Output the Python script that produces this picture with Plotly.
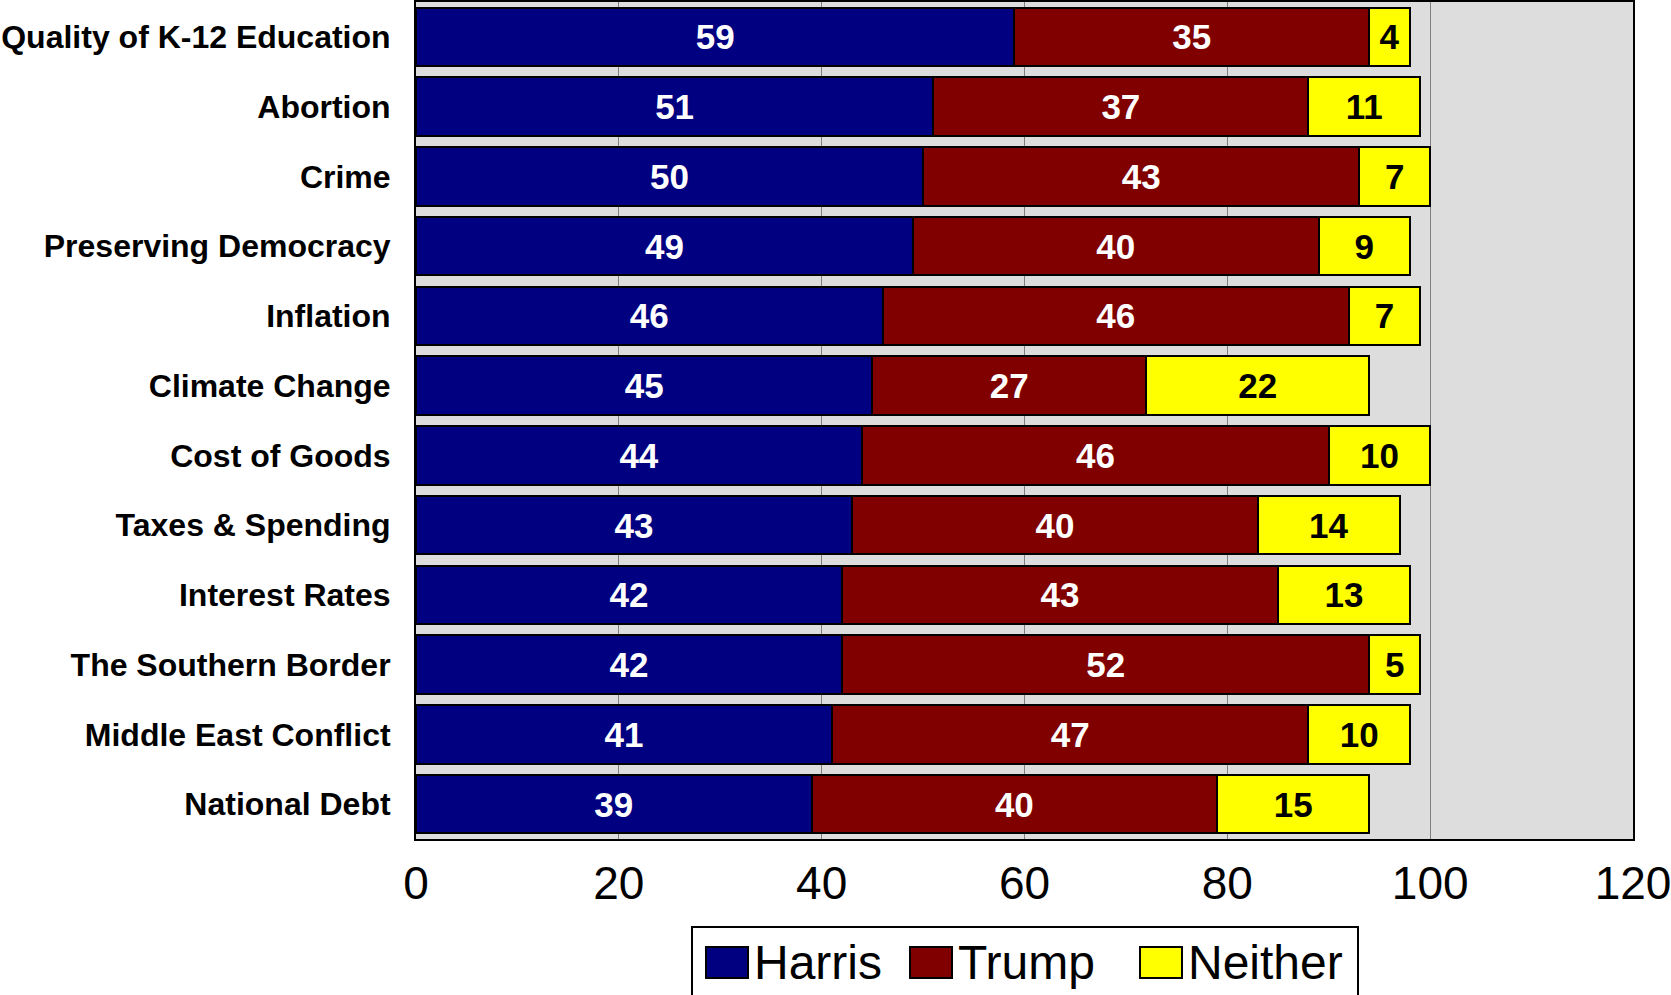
import plotly.graph_objects as go

categories = ["Quality of K-12 Education", "Abortion", "Crime", "Preserving Democracy",
              "Inflation", "Climate Change", "Cost of Goods", "Taxes & Spending",
              "Interest Rates", "The Southern Border", "Middle East Conflict", "National Debt"]
harris = [59, 51, 50, 49, 46, 45, 44, 43, 42, 42, 41, 39]
trump = [35, 37, 43, 40, 46, 27, 46, 40, 43, 52, 47, 40]
neither = [4, 11, 7, 9, 7, 22, 10, 14, 13, 5, 10, 15]
x_ticks = [0, 20, 40, 60, 80, 100, 120]

series = [("Harris", harris, "#000080", "white"),
          ("Trump", trump, "#800000", "white"),
          ("Neither", neither, "#FFFF00", "black")]

FONT = "Liberation Sans, Arial, sans-serif"

fig = go.Figure()
for name, vals, color, tcolor in series:
    fig.add_trace(go.Bar(
        y=categories, x=vals, name=name, orientation="h",
        marker=dict(color=color, line=dict(color="black", width=2)),
        text=[str(v) for v in vals], textposition="inside", insidetextanchor="middle",
        textangle=0, constraintext="none",
        textfont=dict(family=FONT, size=35, color=tcolor, weight="bold"),
        showlegend=False, hoverinfo="skip",
    ))

W, H = 1671, 995
L, R, T, B = 416, 1633, 2, 839

def px(x):
    return (x - L) / (R - L)

def py(y):
    return (B - y) / (B - T)

shapes = [dict(type="rect", xref="paper", yref="paper",
               x0=px(692), x1=px(1358), y0=py(927), y1=py(1010),
               line=dict(color="black", width=2), fillcolor="white")]
annotations = []
leg_items = [(706, "Harris"), (910, "Trump"), (1140, "Neither")]
for (x0, label), (_, _, color, _) in zip(leg_items, series):
    shapes.append(dict(type="rect", xref="paper", yref="paper",
                       x0=px(x0), x1=px(x0 + 42), y0=py(978), y1=py(947),
                       line=dict(color="black", width=2), fillcolor=color))
    annotations.append(dict(xref="paper", yref="paper", x=px(x0 + 46), y=py(962),
                            text=label, showarrow=False, xanchor="left", yanchor="middle",
                            font=dict(family=FONT, size=48, color="black")))

fig.update_layout(
    width=W, height=H,
    margin=dict(l=L, r=W - R, t=T, b=H - B, pad=0, autoexpand=False),
    barmode="stack", bargap=0.16,
    plot_bgcolor="#DDDDDD", paper_bgcolor="white",
    font=dict(family=FONT, color="black"),
    shapes=shapes, annotations=annotations,
    xaxis=dict(range=[0, 120], tickvals=x_ticks, ticktext=[str(v) for v in x_ticks],
               showgrid=True, gridcolor="#808080", gridwidth=1, zeroline=False,
               showline=True, linecolor="black", linewidth=2, mirror=True,
               ticks="", ticklabelstandoff=3, automargin=False, ticklabeloverflow="allow",
               tickfont=dict(family=FONT, size=46, color="black")),
    yaxis=dict(autorange="reversed", showgrid=False, zeroline=False,
               showline=True, linecolor="black", linewidth=2, mirror=True,
               ticks="", ticklabelstandoff=17, automargin=False, ticklabeloverflow="allow",
               tickfont=dict(family=FONT, size=32, color="black", weight="bold")),
)

fig.write_html("out.html", config={"displayModeBar": False},
               post_script="document.body.style.margin='0px';document.body.style.overflow='hidden';")
